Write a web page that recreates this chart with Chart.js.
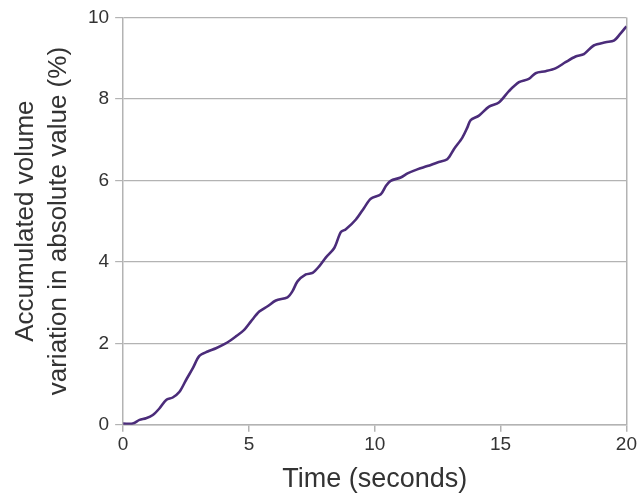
<!DOCTYPE html>
<html>
<head>
<meta charset="utf-8">
<script src="https://cdn.jsdelivr.net/npm/chart.js@4/dist/chart.umd.min.js"></script>
<style>
html,body{margin:0;padding:0;background:#fff;}
#wrap{width:639px;height:500px;}
</style>
</head>
<body>
<div id="wrap"><canvas id="c" width="639" height="500"></canvas></div>
<script>
const timeSeconds = [0, 0.38, 0.65, 0.91, 1.18, 1.44, 1.71, 1.97, 2.24, 2.5, 2.77, 3.03, 3.36, 3.69, 4.02, 4.26, 4.48, 4.81, 5.08, 5.41, 5.74, 6.07, 6.53, 6.73, 6.93, 7.26, 7.53, 7.79, 8.06, 8.39, 8.65, 8.85, 9.25, 9.58, 9.84, 10.24, 10.44, 10.63, 11.03, 11.3, 11.69, 12.09, 12.49, 12.88, 13.15, 13.48, 13.68, 13.81, 14.14, 14.54, 14.93, 15.33, 15.73, 16.12, 16.39, 16.79, 17.18, 17.58, 17.98, 18.31, 18.7, 19.17, 19.5, 19.76, 20];
const volumeVariation = [0.03, 0.03, 0.12, 0.16, 0.24, 0.40, 0.61, 0.67, 0.81, 1.10, 1.39, 1.69, 1.80, 1.88, 1.98, 2.07, 2.17, 2.33, 2.54, 2.78, 2.91, 3.05, 3.13, 3.28, 3.52, 3.69, 3.73, 3.89, 4.11, 4.34, 4.73, 4.80, 5.04, 5.33, 5.55, 5.66, 5.86, 5.99, 6.07, 6.17, 6.27, 6.35, 6.44, 6.52, 6.77, 7.05, 7.30, 7.48, 7.59, 7.81, 7.91, 8.19, 8.41, 8.49, 8.63, 8.68, 8.75, 8.90, 9.04, 9.10, 9.31, 9.39, 9.43, 9.60, 9.78];
const xTicks = [0, 5, 10, 15, 20];
const yTicks = [0, 2, 4, 6, 8, 10];
const xTitle = 'Time (seconds)';
const yTitle = ['Accumulated volume', 'variation in absolute value (%)'];

const points = timeSeconds.map((t, i) => ({x: t, y: volumeVariation[i]}));
const gridGray = '#b3b3b3';
const textColor = '#333333';
const fontFamily = '"Liberation Sans", Arial, sans-serif';

new Chart(document.getElementById('c'), {
  type: 'line',
  data: {
    datasets: [{
      data: points,
      borderColor: '#4b2c7a',
      borderWidth: 2.6,
      pointRadius: 0,
      tension: 0.3,
      fill: false
    }]
  },
  options: {
    responsive: false,
    animation: false,
    layout: {padding: {top: 14, right: 4, left: 10, bottom: 4}},
    plugins: {legend: {display: false}, tooltip: {enabled: false}},
    scales: {
      x: {
        type: 'linear',
        min: 0, max: 20,
        afterBuildTicks: s => { s.ticks = xTicks.map(v => ({value: v})); },
        ticks: {color: textColor, font: {family: fontFamily, size: 19}, padding: 2},
        grid: {
          color: ctx => (ctx.tick && ctx.tick.value === 20) ? gridGray : 'transparent',
          tickColor: gridGray,
          tickLength: 7,
          lineWidth: 1.5
        },
        border: {color: gridGray, width: 1.5},
        title: {display: true, text: xTitle, color: textColor, font: {family: fontFamily, size: 27}, padding: {top: 5, bottom: 0}}
      },
      y: {
        min: 0, max: 10,
        afterBuildTicks: s => { s.ticks = yTicks.map(v => ({value: v})); },
        ticks: {color: textColor, font: {family: fontFamily, size: 19}, padding: 6},
        grid: {color: gridGray, tickColor: gridGray, tickLength: 8, lineWidth: 1.2},
        border: {color: gridGray, width: 1.5},
        title: {display: true, text: yTitle, color: textColor, font: {family: fontFamily, size: 26, lineHeight: 1.25}, padding: {top: 0, bottom: 7}}
      }
    }
  }
});
</script>
</body>
</html>
